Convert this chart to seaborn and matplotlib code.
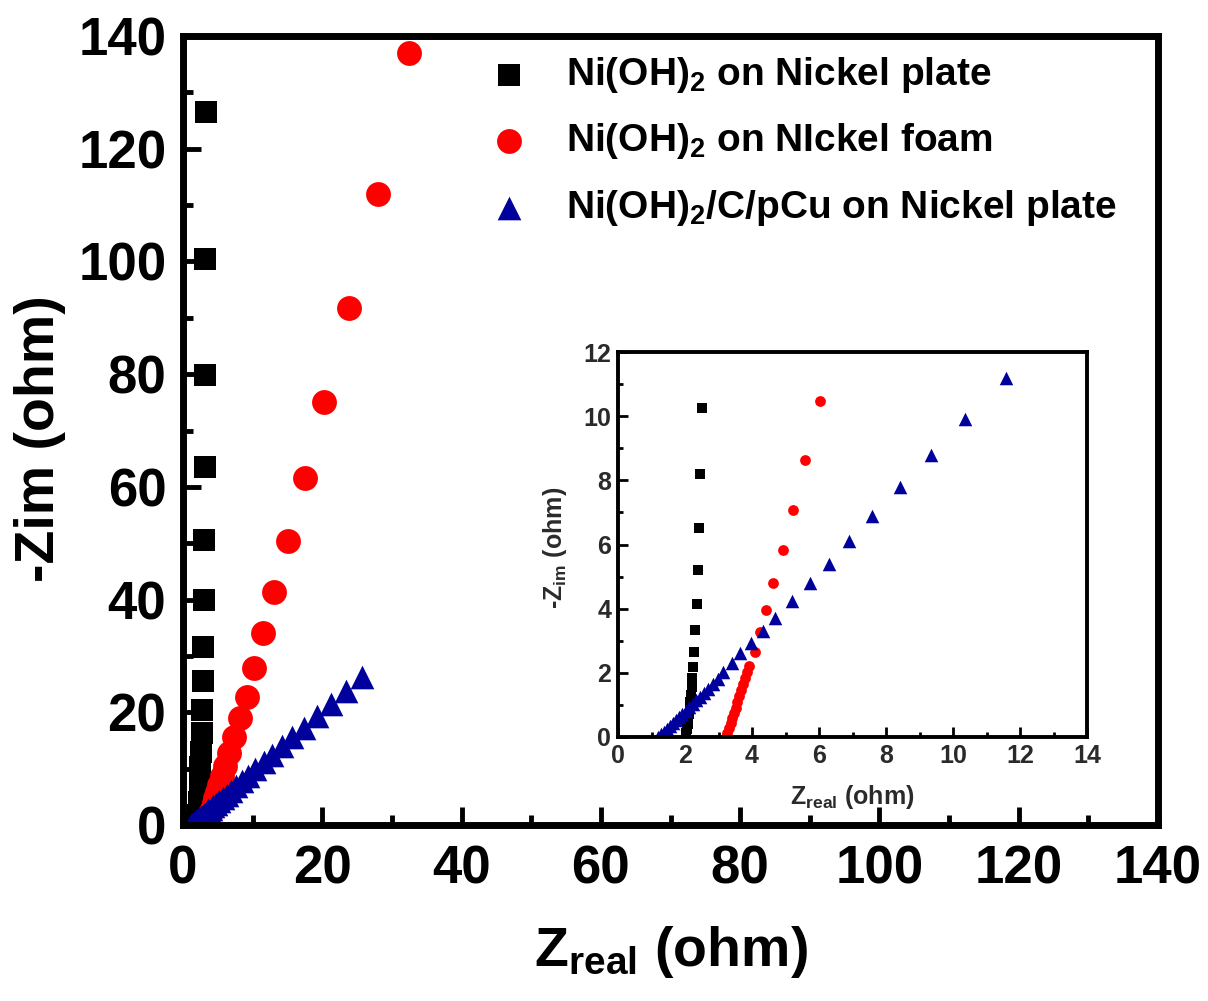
import matplotlib
matplotlib.use("Agg")
import matplotlib.pyplot as plt
import seaborn as sns
import pandas as pd
from matplotlib.ticker import MultipleLocator

# ---------------- data ----------------
labels = [r"Ni(OH)$_2$ on Nickel plate",
          r"Ni(OH)$_2$ on NIckel foam",
          r"Ni(OH)$_2$/C/pCu on Nickel plate"]

x_plate = [2.02, 2.04, 2.06, 2.08, 2.10, 2.12, 2.14, 2.16, 2.18, 2.20, 2.22, 2.25, 2.27, 2.30,
           2.35, 2.40, 2.43, 2.45, 2.50, 2.58, 2.66, 2.74, 2.82, 2.90, 2.98, 3.05, 3.12, 3.18,
           3.23, 3.28]
y_plate = [0.00, 0.12, 0.25, 0.40, 0.55, 0.72, 0.90, 1.10, 1.32, 1.57, 1.85, 2.18, 2.66, 3.34,
           4.13, 5.19, 6.50, 8.20, 10.25, 12.9, 16.3, 20.4, 25.5, 31.6, 40.0, 50.5, 63.5, 79.8,
           100.5, 126.5]

x_foam = [3.22, 3.26, 3.31, 3.36, 3.41, 3.46, 3.51, 3.56, 3.62, 3.68, 3.74, 3.80, 3.86, 3.92,
          4.10, 4.25, 4.42, 4.64, 4.92, 5.22, 5.59, 6.04, 6.6, 7.3, 8.2, 9.2, 10.2, 11.5, 13.1,
          15.1, 17.5, 20.2, 23.8, 28.0, 32.4]
y_foam = [0.00, 0.14, 0.28, 0.43, 0.58, 0.74, 0.91, 1.09, 1.28, 1.47, 1.66, 1.85, 2.03, 2.21,
          2.64, 3.27, 3.97, 4.81, 5.83, 7.08, 8.64, 10.48, 12.8, 15.6, 19.0, 22.8, 27.9, 34.0,
          41.4, 50.4, 61.6, 75.1, 91.8, 112.0, 137.0]

x_comp = [1.20, 1.28, 1.36, 1.45, 1.54, 1.63, 1.72, 1.82, 1.92, 2.02, 2.12, 2.23, 2.34, 2.45,
          2.57, 2.70, 2.84, 2.98, 3.14, 3.40, 3.65, 3.97, 4.34, 4.69, 5.19, 5.74, 6.29, 6.89,
          7.58, 8.43, 9.33, 10.37, 11.57, 12.8, 14.2, 15.7, 17.4, 19.3, 21.3, 23.4, 25.7]
y_comp = [0.00, 0.08, 0.16, 0.25, 0.34, 0.43, 0.52, 0.62, 0.72, 0.82, 0.92, 1.03, 1.14, 1.25,
          1.37, 1.50, 1.64, 1.80, 2.04, 2.30, 2.61, 2.92, 3.31, 3.71, 4.23, 4.81, 5.38, 6.11,
          6.90, 7.78, 8.78, 9.90, 11.18, 12.5, 14.0, 15.6, 17.3, 19.3, 21.5, 23.8, 26.3]

main_xticks = [0, 20, 40, 60, 80, 100, 120, 140]
main_yticks = [0, 20, 40, 60, 80, 100, 120, 140]
inset_xticks = [0, 2, 4, 6, 8, 10, 12, 14]
inset_yticks = [0, 2, 4, 6, 8, 10, 12]

# ---------------- style ----------------
sns.set_style("ticks")
plt.rcParams["font.family"] = ["Liberation Sans", "DejaVu Sans"]
plt.rcParams["font.weight"] = "bold"
plt.rcParams["mathtext.fontset"] = "custom"
plt.rcParams["mathtext.rm"] = "Liberation Sans:bold"
plt.rcParams["mathtext.bf"] = "Liberation Sans:bold"
plt.rcParams["mathtext.it"] = "Liberation Sans:bold"
plt.rcParams["mathtext.default"] = "rm"
for k in ["text.color", "axes.labelcolor", "xtick.color", "ytick.color", "axes.edgecolor"]:
    plt.rcParams[k] = "black"

colors = ["#000000", "#FF0000", "#00009C"]
markers = ["s", "o", "^"]
series = [(x_plate, y_plate), (x_foam, y_foam), (x_comp, y_comp)]
main_sizes = [250, 320, 290]
inset_sizes = [55, 60, 95]

fig = plt.figure(figsize=(12.08, 10.01), dpi=100)
W, H = 1208, 1001

def axes_px(l, r, t, b):
    return [l / W, 1 - b / H, (r - l) / W, (b - t) / H]

ax = fig.add_axes(axes_px(183, 1158, 36, 825))
for (xs, ys), c, m, s, lab in zip(series, colors, markers, main_sizes, labels):
    df = pd.DataFrame({"x": xs, "y": ys})
    sns.scatterplot(data=df, x="x", y="y", ax=ax, color=c, marker=m, s=s,
                    linewidth=0, label=lab, clip_on=True)

ax.set_xlim(0, 140)
ax.set_ylim(0, 140)
ax.set_xticks(main_xticks)
ax.set_yticks(main_yticks)
ax.xaxis.set_minor_locator(MultipleLocator(10))
ax.yaxis.set_minor_locator(MultipleLocator(10))
ax.tick_params(which="major", direction="in", length=13, width=3.5, labelsize=38, pad=14)
ax.tick_params(which="minor", direction="in", length=7, width=3.5)
ax.tick_params(axis="y", pad=12)
for sp in ax.spines.values():
    sp.set_linewidth(5)
for t in ax.get_xticklabels() + ax.get_yticklabels():
    t.set_fontweight("bold")

ax.set_xlabel(r"Z$_{\rm real}$ (ohm)", fontsize=40, fontweight="bold")
ax.set_ylabel("-Zim (ohm)", fontsize=40, fontweight="bold")
ax.xaxis.set_label_coords(0.5, -0.125)
ax.yaxis.set_label_coords(-0.12, 0.49)

leg = ax.legend(loc="upper left", bbox_to_anchor=(490 / W, 1 - 55 / H),
                bbox_transform=fig.transFigure, frameon=False, fontsize=28,
                handlelength=1.0, handletextpad=0.95, labelspacing=0.68,
                borderpad=0, borderaxespad=0, scatterpoints=1)
for t in leg.get_texts():
    t.set_fontweight("bold")

# ---------------- inset ----------------
axi = fig.add_axes(axes_px(618, 1087, 352, 737))
for (xs, ys), c, m, s in zip(series, colors, markers, inset_sizes):
    df = pd.DataFrame({"x": xs, "y": ys})
    sns.scatterplot(data=df, x="x", y="y", ax=axi, color=c, marker=m, s=s,
                    linewidth=0, legend=False)
axi.set_xlim(0, 14)
axi.set_ylim(0, 12)
axi.set_xticks(inset_xticks)
axi.set_yticks(inset_yticks)
axi.xaxis.set_minor_locator(MultipleLocator(1))
axi.yaxis.set_minor_locator(MultipleLocator(1))
axi.tick_params(which="major", direction="in", length=7, width=2, labelsize=18,
                pad=5, labelcolor="#2a2a2a")
axi.tick_params(which="minor", direction="in", length=3.5, width=2)
for sp in axi.spines.values():
    sp.set_linewidth(2.8)
for t in axi.get_xticklabels() + axi.get_yticklabels():
    t.set_fontweight("bold")
axi.set_xlabel(r"Z$_{\rm real}$ (ohm)", fontsize=18, fontweight="bold", color="#2a2a2a")
axi.set_ylabel(r"-Z$_{\rm im}$ (ohm)", fontsize=18, fontweight="bold", color="#2a2a2a")
axi.xaxis.set_label_coords(0.5, -0.12)
axi.yaxis.set_label_coords(-0.105, 0.49)

fig.savefig("out.png", dpi=100)
